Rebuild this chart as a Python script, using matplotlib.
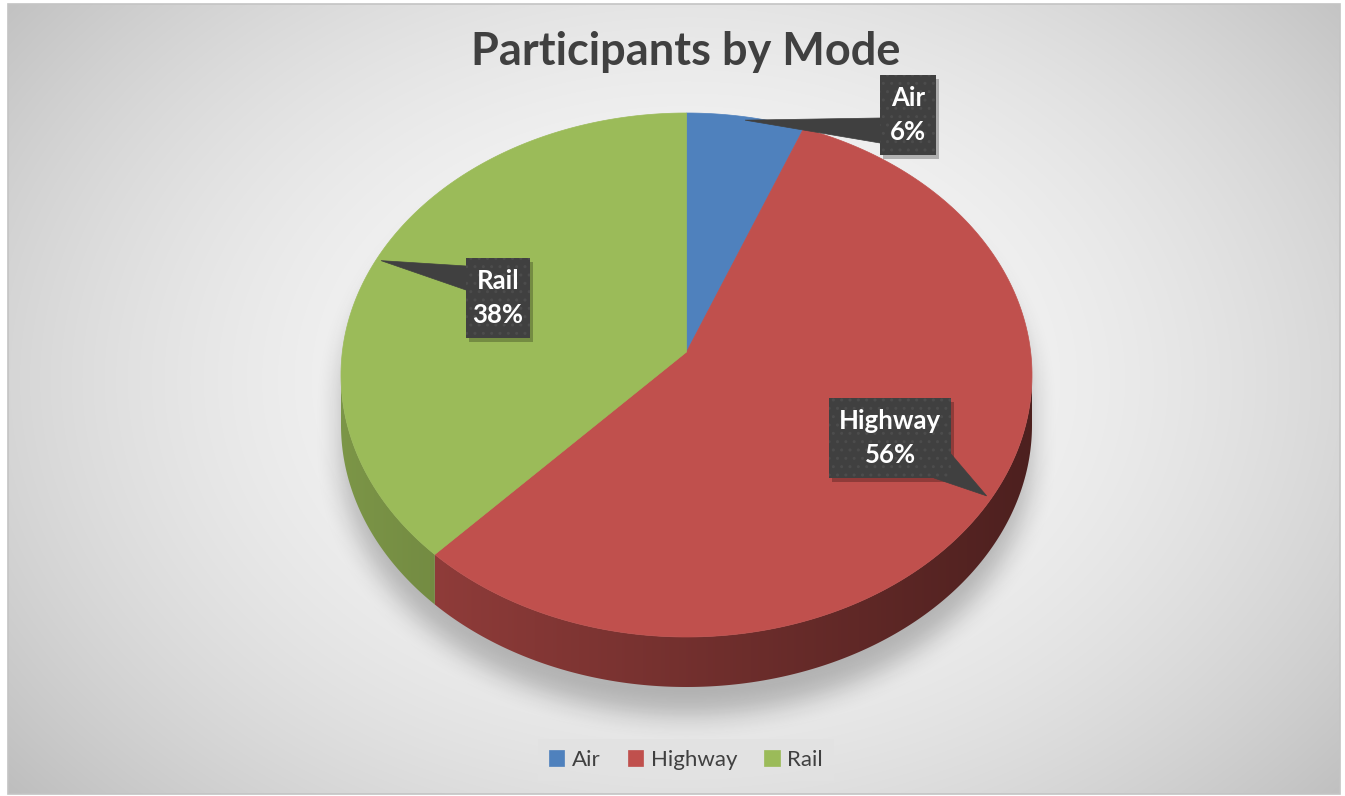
import numpy as np
import matplotlib
matplotlib.use('Agg')
import matplotlib.pyplot as plt
from matplotlib.patches import Polygon, Rectangle
from matplotlib.colors import to_rgb

plt.rcParams["font.family"] = ["Lato", "DejaVu Sans"]

# data
modes = ["Air", "Highway", "Rail"]
shares = [6, 56, 38]
colors = ["#4F81BD", "#C0504D", "#9BBB59"]
title = "Participants by Mode"

W, H = 1345, 796
cx, cy, ry, depth = 686.5, 375, 262, 50
c_off = -23          # slice centre sits above the ellipse centre (perspective)
kp = c_off / ry
ax_u = 345.5 * np.sqrt(1 - kp ** 2)


def edge(theta, dy=0.0, k=1.0):
    # perspective view of a tilted circle, theta clockwise from 12 o'clock
    u = k * np.sin(theta)
    v = -k * np.cos(theta)
    w = 1 + kp * v
    return cx + ax_u * u / w, cy + (ry * v + c_off) / w + dy


def box_blur(a, r):
    k = 2 * r + 1
    for axis in (0, 1):
        pw = [(0, 0), (0, 0)]
        pw[axis] = (r + 1, r)
        c = np.cumsum(np.pad(a, pw, mode="edge"), axis=axis)
        n = c.shape[axis]
        a = (np.take(c, range(k, n), axis=axis) - np.take(c, range(0, n - k), axis=axis)) / k
    return a


fig = plt.figure(figsize=(W / 100, H / 100), dpi=100)
ax = fig.add_axes([0, 0, 1, 1])
ax.set_xlim(0, W)
ax.set_ylim(H, 0)
ax.axis("off")

# background gradient
x0, x1, y0, y1 = 8, 1340, 4, 794
gx, gy = np.meshgrid(np.arange(W) + 0.5, np.arange(H) + 0.5)
r2 = ((gx - 686) / 820) ** 2 + ((gy - 380) / 600) ** 2
val = np.clip(0.975 - 0.2 * r2, 0, 1)
bg = np.dstack([val, val, val])
inside = (gx >= x0) & (gx <= x1) & (gy >= y0) & (gy <= y1)
bg[~inside] = 1.0
ax.imshow(bg, extent=[0, W, H, 0], zorder=0, interpolation="bilinear")
ax.add_patch(Rectangle((x0, y0), x1 - x0, y1 - y0, fill=False, ec="#c4c4c4", lw=1.2, zorder=1))

# soft shadow under the pie
rx_e = 345.5
sil = (((gx - cx) / rx_e) ** 2 + ((gy - cy - 28) / ry) ** 2 <= 1) | \
      (((gx - cx) / rx_e) ** 2 + ((gy - cy - depth - 28) / ry) ** 2 <= 1) | \
      ((np.abs(gx - cx) <= rx_e) & (gy >= cy + 28) & (gy <= cy + depth + 28))
sh = box_blur(box_blur(sil.astype(float), 14), 14)
shade = np.zeros((H, W, 4))
shade[..., 3] = 0.24 * sh
ax.imshow(shade, extent=[0, W, H, 0], zorder=2, interpolation="bilinear")

# slice angles, clockwise from 12 o'clock
fr = np.array(shares, dtype=float) / sum(shares)
bounds = np.concatenate([[0], np.cumsum(fr)]) * 2 * np.pi

# visible front of the side wall: between the silhouette tangent points
tt = np.linspace(0, 2 * np.pi, 7201)
ex, _ = edge(tt)
t_right = tt[np.argmax(ex)]
t_left = tt[np.argmin(ex)]

xs_line = np.arange(W) + 0.5
for i in range(len(modes)):
    a0 = max(bounds[i], t_right)
    a1 = min(bounds[i + 1], t_left)
    if a1 <= a0:
        continue
    th = np.linspace(a0, a1, 300)
    tx, ty = edge(th)
    bx_, by_ = edge(th[::-1], dy=depth)
    wall = Polygon(np.column_stack([np.r_[tx, bx_], np.r_[ty, by_]]), closed=True,
                   fc="none", lw=0, zorder=3)
    ax.add_patch(wall)
    f = 0.6 - 0.2 * (xs_line - cx) / rx_e
    grad = np.clip(np.array(to_rgb(colors[i]))[None, None, :] * f[None, :, None], 0, 1)
    im = ax.imshow(grad, extent=[0, W, H, 0], zorder=3, interpolation="bilinear", aspect="auto")
    im.set_clip_path(wall)

# top faces
handles = []
for i, m in enumerate(modes):
    th = np.linspace(bounds[i], bounds[i + 1], 200)
    xs, ys = edge(th)
    ccx, ccy = edge(0.0, k=0.0)
    pts = np.column_stack([np.r_[ccx, xs], np.r_[ccy, ys]])
    p = Polygon(pts, closed=True, fc=colors[i], ec=colors[i], lw=0.5, zorder=4, label=m)
    ax.add_patch(p)
    handles.append(p)

# data label callouts
box_layout = {
    "Air": dict(c=(908, 115), w=56, h=80, base=[(-28, 3), (-28, 28)]),
    "Highway": dict(c=(890, 438), w=122, h=80, base=[(44, 40), (61, 16)]),
    "Rail": dict(c=(498, 298), w=64, h=80, base=[(-32, -32), (-32, -8)]),
}
for i, m in enumerate(modes):
    lay = box_layout[m]
    bx, by = lay["c"]
    w, h = lay["w"], lay["h"]
    tip = edge((bounds[i] + bounds[i + 1]) / 2, k=0.985)
    tri = [tip] + [(bx + dx, by + dy) for dx, dy in lay["base"]]
    ax.add_patch(Rectangle((bx - w / 2 + 3, by - h / 2 + 4), w, h, fc="black", alpha=0.25, lw=0, zorder=5))
    ax.add_patch(Polygon(tri, closed=True, fc="#404040", ec="#404040", lw=0.5, zorder=6))
    ax.add_patch(Rectangle((bx - w / 2, by - h / 2), w, h, fc="#404040", lw=0, zorder=6))
    ax.add_patch(Rectangle((bx - w / 2, by - h / 2), w, h, fill=False, hatch="..", ec="#4c4c4c", lw=0, zorder=6))
    ax.text(bx, by - 17, m, ha="center", va="center", color="white", fontsize=18.5, fontweight="bold", zorder=7)
    ax.text(bx, by + 17, f"{shares[i]}%", ha="center", va="center", color="white", fontsize=18.5,
            fontweight="bold", zorder=7)

ax.text(686, 52, title, ha="center", va="center", fontsize=32.5, fontweight="bold", color="#404040", zorder=7)

leg = ax.legend(handles=handles, loc="center", bbox_to_anchor=(686 / W, 1 - 760 / H), ncol=3,
                frameon=True, fancybox=False, fontsize=16, handlelength=0.7, handleheight=0.7,
                handletextpad=0.35, columnspacing=1.2, borderpad=0.5, labelcolor="#404040")
leg.get_frame().set_facecolor("#e2e2e2")
leg.get_frame().set_edgecolor("none")
leg.set_zorder(8)

fig.savefig("out.png", dpi=100)
